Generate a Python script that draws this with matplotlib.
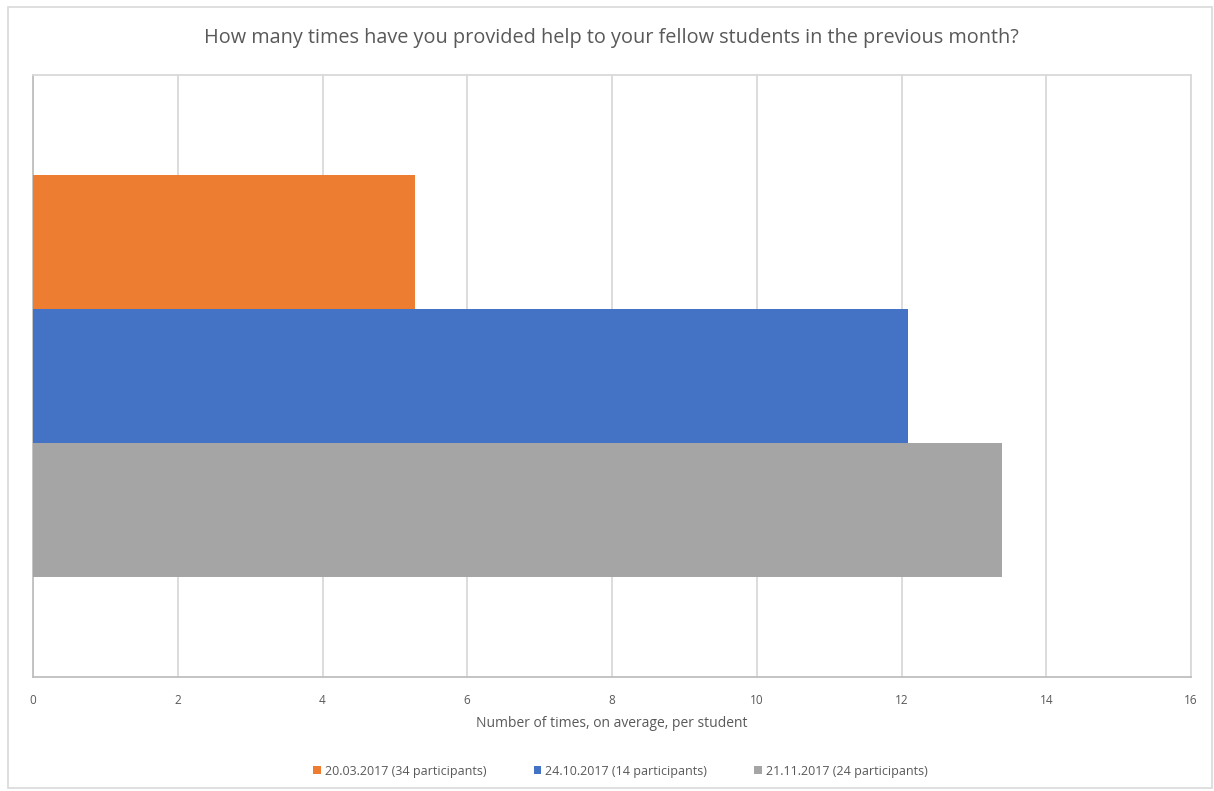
import matplotlib.pyplot as plt
from matplotlib.patches import Rectangle

title = "How many times have you provided help to your fellow students in the previous month?"
series = ["20.03.2017 (34 participants)", "24.10.2017 (14 participants)", "21.11.2017 (24 participants)"]
values = [5.28, 12.09, 13.39]
colors = ["#ED7D31", "#4472C4", "#A5A5A5"]
xticks = [0, 2, 4, 6, 8, 10, 12, 14, 16]

plt.rcParams['font.family'] = ['Open Sans', 'DejaVu Sans']
txt = "#595959"
grid = "#D9D9D9"

fig = plt.figure(figsize=(12.14, 7.91), dpi=100)
ax = fig.add_axes([33/1214, 1-677/791, (1191-33)/1214, (677-75)/791])

# outer chart border
fig.patches.append(Rectangle((8/1214, 3/791), 1204/1214, 781/791, transform=fig.transFigure,
                             fill=False, edgecolor=grid, linewidth=1.2))

h = 2/9
for i, (s, v, c) in enumerate(zip(series, values, colors)):
    ax.barh((1 - i) * h, v, height=h, color=c, label=s, zorder=3)

ax.set_xlim(0, 16)
ax.set_ylim(-0.5, 0.5)
ax.set_xticks(xticks)
ax.set_yticks([])
ax.tick_params(axis='x', length=0, pad=12, labelsize=8.5, labelcolor=txt)
ax.grid(axis='x', color=grid, linewidth=1.3, zorder=0)
for sp in ax.spines.values():
    sp.set_color(grid)
    sp.set_linewidth(1.3)
ax.spines['left'].set_color("#BFBFBF")
ax.spines['bottom'].set_color("#BFBFBF")

ax.set_xlabel("Number of times, on average, per student", fontsize=10, color=txt, labelpad=7)
fig.text(0.504, 1-38/791, title, ha='center', va='center', fontsize=14.3, color=txt)

fig.legend(loc='center', bbox_to_anchor=(0.511, 1-771/791), ncol=3, frameon=False,
           fontsize=9, labelcolor=txt, handlelength=0.6, handleheight=0.6,
           handletextpad=0.3, columnspacing=3.8)

fig.savefig("out.png", dpi=100)
